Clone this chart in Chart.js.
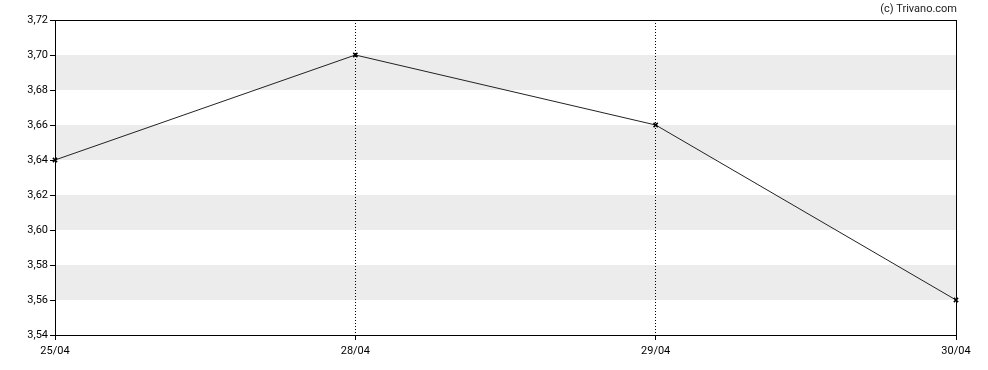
<!DOCTYPE html>
<html lang="en">
<head>
    <meta charset="UTF-8">
    <title>Price chart</title>
    <script src="https://cdn.jsdelivr.net/npm/chart.js"></script>
    <style>
        body { margin: 0; background: #fff; }
        #wrap { width: 988px; height: 370px; }
    </style>
</head>
<body>
    <div id="wrap"><canvas id="priceChart"></canvas></div>
    <script>
        const dates = ["25/04", "28/04", "29/04", "30/04"];
        const prices = [3.64, 3.70, 3.66, 3.56];
        const yMin = 3.54;
        const yMax = 3.72;
        const yStep = 0.02;
        // grey stripes, [from, to]
        const bands = [[3.56, 3.58], [3.60, 3.62], [3.64, 3.66], [3.68, 3.70]];

        const decoPlugin = {
            id: "deco",
            beforeDraw(chart) {
                const { ctx, chartArea, scales } = chart;
                ctx.save();
                ctx.fillStyle = "#ececec";
                bands.forEach(b => {
                    const y1 = scales.y.getPixelForValue(b[1]);
                    const y0 = scales.y.getPixelForValue(b[0]);
                    ctx.fillRect(chartArea.left, y1, chartArea.right - chartArea.left, y0 - y1);
                });
                ctx.restore();
            },
            afterDraw(chart) {
                const { ctx, chartArea } = chart;
                ctx.save();
                ctx.strokeStyle = "#000";
                ctx.lineWidth = 1;
                ctx.strokeRect(chartArea.left + 0.5, chartArea.top + 0.5,
                    chartArea.right - chartArea.left, chartArea.bottom - chartArea.top);
                ctx.fillStyle = "#222";
                ctx.font = "11px Roboto";
                ctx.textAlign = "right";
                ctx.textBaseline = "middle";
                ctx.fillText("(c) Trivano.com", chartArea.right + 1, 9);
                ctx.restore();
            }
        };

        new Chart(document.getElementById("priceChart"), {
            type: "line",
            data: {
                labels: dates,
                datasets: [{
                    data: prices,
                    borderColor: "#222",
                    borderWidth: 1,
                    pointStyle: "crossRot",
                    pointRadius: 3,
                    pointBorderColor: "#000",
                    pointBorderWidth: 1.5,
                    tension: 0
                }]
            },
            options: {
                responsive: true,
                maintainAspectRatio: false,
                animation: false,
                layout: { padding: { top: 20, right: 32, left: 0, bottom: 0 } },
                plugins: { legend: { display: false }, tooltip: { enabled: false } },
                scales: {
                    x: {
                        offset: false,
                        afterFit: s => { s.height = 35; },
                        border: { display: true, color: "#000", dash: [1, 2] },
                        grid: {
                            color: "#000",
                            tickLength: 5,
                            tickColor: "#000",
                            tickBorderDash: []
                        },
                        ticks: {
                            color: "#000",
                            padding: 5,
                            maxRotation: 0,
                            font: { family: "Roboto", size: 11 }
                        }
                    },
                    y: {
                        min: yMin,
                        max: yMax,
                        afterFit: s => { s.width = 55; },
                        border: { display: true, color: "#000" },
                        grid: {
                            drawOnChartArea: false,
                            tickLength: 5,
                            tickColor: "#000"
                        },
                        ticks: {
                            stepSize: yStep,
                            color: "#000",
                            padding: 2,
                            font: { family: "Roboto", size: 11 },
                            callback: v => v.toFixed(2).replace(".", ",")
                        }
                    }
                }
            },
            plugins: [decoPlugin]
        });
    </script>
</body>
</html>
